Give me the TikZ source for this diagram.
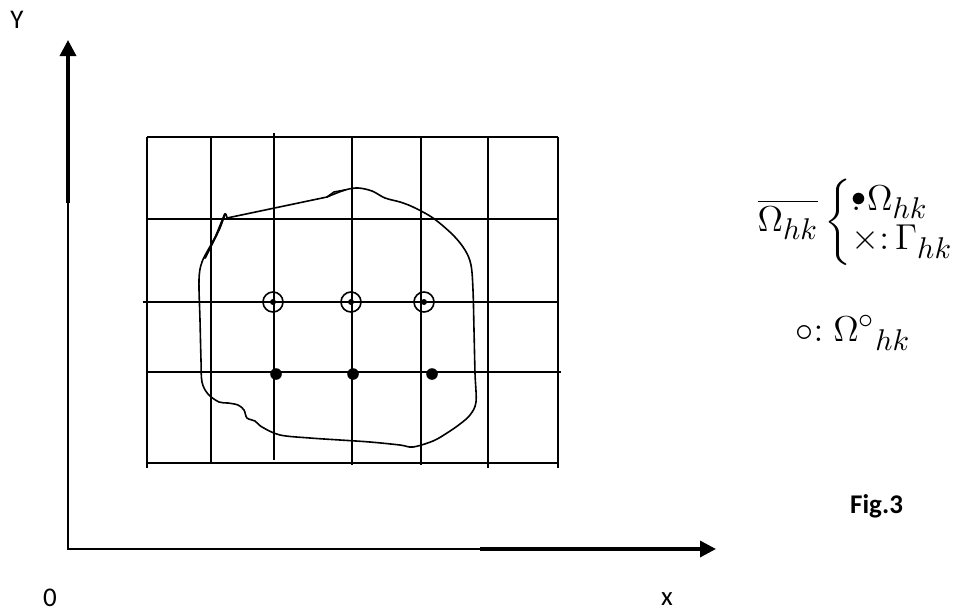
\documentclass[tikz,border=0pt]{standalone}
\usepackage{amsmath}
\usepackage{mathtools}
\usepackage{fontspec}
\newfontfamily\carl{Carlito}
\DeclareMathSizes{12}{12}{10}{8}
\usetikzlibrary{arrows.meta}
\tikzset{
  gridline/.style={line width=1.9pt},
  axisthin/.style={line width=1.4pt},
  axisthick/.style={line width=3.4pt},
  bound/.style={line width=1.6pt, line join=round, line cap=round},
  lbl/.style={font=\carl\fontsize{27}{30}\selectfont, inner sep=0pt, text depth=0pt},
  mathlbl/.style={font=\fontsize{12}{13.3}\selectfont, inner sep=0pt, scale=3, transform shape},
  tiparrow/.style={-{Triangle[length=16pt,width=16pt]}},
  ringpt/.style={line width=1.6pt},
}
\begin{document}
\begin{tikzpicture}[x=1pt,y=-1pt]
\useasboundingbox (0,0) rectangle (956,611);
% axes
\coordinate (O) at (68,549);
\coordinate (Ymid) at (68,203);
\coordinate (Ytip) at (68,40);
\coordinate (Xmid) at (480,549);
\coordinate (Xtip) at (716,549);
\draw[axisthin] (Ymid) -- (O) -- (Xmid);
\draw[axisthick, tiparrow] (Ymid) -- (Ytip);
\draw[axisthick, tiparrow] (Xmid) -- (Xtip);
\node[lbl, anchor=base] (ylab) at (17,28) {Y};
\node[lbl, anchor=base] (olab) at (50,606) {0};
\node[lbl, anchor=base] (xlab) at (667,605) {x};
\node[lbl, font=\carl\bfseries\fontsize{27}{30}\selectfont, anchor=base west] (fig) at (850,513) {Fig.3};
% grid
\draw[gridline] (147,137) -- (558,137);
\draw[gridline] (147,219) -- (558,219);
\draw[gridline] (143,302) -- (557,302);
\draw[gridline] (147,372) -- (561,372);
\draw[gridline] (147,463) -- (558,463);
\draw[gridline] (147,137) -- (147,468);
\draw[gridline] (211,137) -- (211,463);
\draw[gridline] (274,133) -- (274,460);
\draw[gridline] (352,137) -- (352,465);
\draw[gridline] (421,137) -- (421,465);
\draw[gridline] (488,137) -- (488,468);
\draw[gridline] (558,137) -- (558,468);
% boundary
\draw[bound] (227,218) -- (327,197)
  -- plot[smooth, tension=0.55] coordinates {(327,197) (345,190) (358,188) (372,191) (385,198) (400,202) (413,207) (433,218) (453,235) (465,250) (471,265) (473,290) (474,330) (475,373) (476,402) (470,415) (460,424) (447,433) (433,441) (413,447) (400,445) (370,442) (340,440) (310,438) (280,435) (262,427) (255,421) (247,418) (244,410) (238,405) (228,403) (219,402) (208,394) (202,382) (201,360) (200,320) (199,280) (202,262) (212,243) (220,228) (225,214) (227,218)};
\draw[line width=2.2pt, line cap=round] (225,214) -- (216,236) -- (205,258);
\draw[line width=1.6pt, line cap=round] (327,197) -- (334,192) -- (345,190);
% interior ring points
\foreach \px in {273,351,424}{
  \draw[ringpt] (\px,302) circle[radius=10pt];
  \fill (\px,302) circle[radius=3pt];
}
% filled points
\foreach \px in {276,353,432}{
  \fill (\px,374) circle[radius=5.8pt];
}
% legend
\node[mathlbl, anchor=west] (leg1) at (757,222)
  {$\overline{\Omega_{hk}}\left\{\begin{array}{@{}l@{}}\mathrlap{\raisebox{0.1em}{$\scriptstyle\bullet$}}{:}\,\Omega_{hk}\\ \times{:}\,\Gamma_{hk}\end{array}\right.$};
\node[mathlbl, anchor=west] (leg2) at (795,333)
  {$\circ\mathbf{:}\;\Omega^{\circ}{}_{hk}$};
\end{tikzpicture}
\end{document}
